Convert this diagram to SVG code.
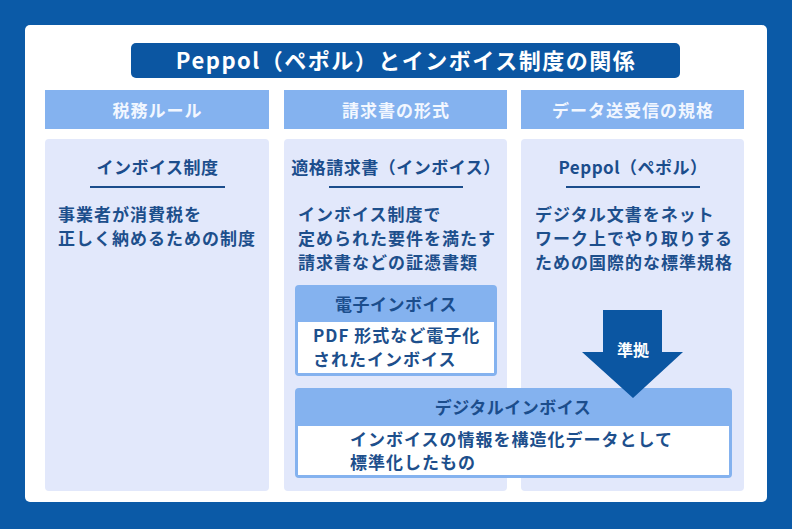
<svg xmlns="http://www.w3.org/2000/svg" width="792" height="529" viewBox="0 0 792 529">
<style>
text{font-family:"Noto Sans CJK JP","Noto Sans",sans-serif;}
.title{font-size:22px;font-weight:700;fill:#ffffff;letter-spacing:1.5px;}
.colh{fill:#84b2ef;}
.colht{font-size:17px;font-weight:700;fill:#f2f7ff;letter-spacing:1px;}
.body{fill:#e2e8fb;}
.sub{font-size:17px;font-weight:700;fill:#1b4d8c;letter-spacing:0.5px;}
.ul{stroke:#1b4d8c;stroke-width:2;}
.txt{font-size:17px;font-weight:600;fill:#1d4f8c;letter-spacing:1px;}
.boxh{fill:#84b2ef;}
.boxht{font-size:17px;font-weight:700;fill:#1b4d8c;letter-spacing:0.5px;}
</style>
<rect x="0" y="0" width="792" height="529" fill="#0b5aa7"/>
<rect x="25" y="25" width="742" height="477" rx="5" fill="#ffffff"/>
<g id="title">
<rect x="131" y="43" width="549" height="35" rx="5" fill="#0b56a2"/>
<text class="title" x="406" y="69" text-anchor="middle">Peppol（ペポル）とインボイス制度の関係</text>
</g>
<g id="col-tax">
<rect class="colh" x="45" y="90" width="224" height="39"/>
<text class="colht" x="157.5" y="117" text-anchor="middle">税務ルール</text>
<rect class="body" x="45" y="139" width="224" height="352" rx="4"/>
<text class="sub" x="157.5" y="174" text-anchor="middle">インボイス制度</text>
<line class="ul" x1="90" y1="187" x2="225" y2="187"/>
<text class="txt" x="58" y="221">事業者が消費税を</text>
<text class="txt" x="58" y="245">正しく納めるための制度</text>
</g>
<g id="col-invoice">
<rect class="colh" x="284" y="90" width="223" height="39"/>
<text class="colht" x="396" y="117" text-anchor="middle">請求書の形式</text>
<rect class="body" x="284" y="139" width="223" height="352" rx="4"/>
<text class="sub" x="396" y="174" text-anchor="middle">適格請求書（インボイス）</text>
<line class="ul" x1="329" y1="187" x2="463" y2="187"/>
<text class="txt" x="298" y="221">インボイス制度で</text>
<text class="txt" x="298" y="245">定められた要件を満たす</text>
<text class="txt" x="298" y="269">請求書などの証憑書類</text>
</g>
<g id="col-peppol">
<rect class="colh" x="521" y="90" width="223" height="39"/>
<text class="colht" x="633" y="117" text-anchor="middle">データ送受信の規格</text>
<rect class="body" x="521" y="139" width="223" height="352" rx="4"/>
<text class="sub" x="633" y="174" text-anchor="middle">Peppol（ペポル）</text>
<line class="ul" x1="566" y1="187" x2="700" y2="187"/>
<text class="txt" x="535" y="221">デジタル文書をネット</text>
<text class="txt" x="535" y="245">ワーク上でやり取りする</text>
<text class="txt" x="535" y="269">ための国際的な標準規格</text>
</g>
<g id="e-invoice">
<rect class="boxh" x="295" y="285" width="202" height="91" rx="4"/>
<rect x="298" y="322" width="196" height="51" fill="#ffffff"/>
<text class="boxht" x="396" y="311" text-anchor="middle">電子インボイス</text>
<text class="txt" x="313" y="342">PDF 形式など電子化</text>
<text class="txt" x="313" y="366">されたインボイス</text>
</g>
<g id="digital-invoice">
<rect class="boxh" x="295" y="388" width="437" height="90" rx="4"/>
<rect x="298" y="426" width="431" height="49" fill="#ffffff"/>
<text class="boxht" x="513" y="414" text-anchor="middle">デジタルインボイス</text>
<text class="txt" x="350" y="446">インボイスの情報を構造化データとして</text>
<text class="txt" x="350" y="469">標準化したもの</text>
</g>
<g id="connectors">
<polygon points="603,310 662,310 662,352 683,352 633,398 582,352 603,352" fill="#0b56a2"/>
<text x="633" y="356" text-anchor="middle" font-size="16" font-weight="700" fill="#ffffff">準拠</text>
</g>
</svg>
